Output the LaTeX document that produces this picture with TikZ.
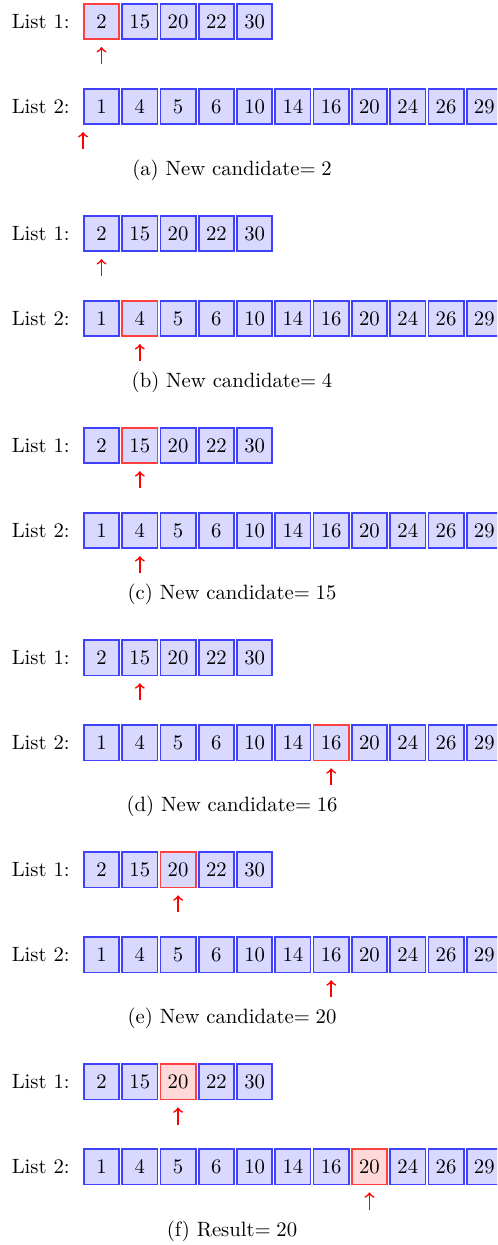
\documentclass[tikz,border=0pt]{standalone}
\usetikzlibrary{positioning}
\tikzset{cell/.style={rectangle, draw=blue!75, fill=blue!15, line width=0.8pt, minimum size=0.6cm, inner sep=0pt}}
\tikzset{pick/.style={draw=red!75}, found/.style={draw=red!75, fill=red!15}}
\tikzset{ptr/.style={->, red, thick}}
\tikzstyle{listname} = [inner sep=0pt]

\begin{document}
\begin{tikzpicture}
  \useasboundingbox (0,0) rectangle (8.44,-21.14);
  \clip (0,0) rectangle (8.44,-21.14);
  \def\listone{2,15,20,22,30}
  \def\listtwo{1,4,5,6,10,14,16,20,24,26,29}
  % one block per step: marked cells, pointer anchors, caption
  \foreach \p/\k/\ha/\hb/\hs/\ta/\tb/\txt in {
      a/0/1/0/pick/1.south/1.south west/{New candidate$=2$},
      b/1/0/2/pick/1.south/2.south/{New candidate$=4$},
      c/2/2/0/pick/2.south/2.south/{New candidate$=15$},
      d/3/0/7/pick/2.south/7.south/{New candidate$=16$},
      e/4/3/0/pick/3.south/7.south/{New candidate$=20$},
      f/5/3/8/found/3.south/8.south/{Result$=20$}}
  {
    \pgfmathsetmacro{\yone}{-0.365-3.601*\k}
    \pgfmathsetmacro{\ytwo}{\yone-1.443}
    \foreach \v [count=\i] in \listone {
      \ifnum\i=\ha
        \node [cell, \hs] (\p1-\i) at (1.074+0.65*\i, \yone) {\v};
      \else
        \node [cell] (\p1-\i) at (1.074+0.65*\i, \yone) {\v};
      \fi
    }
    \foreach \v [count=\i] in \listtwo {
      \ifnum\i=\hb
        \node [cell, \hs] (\p2-\i) at (1.074+0.65*\i, \ytwo) {\v};
      \else
        \node [cell] (\p2-\i) at (1.074+0.65*\i, \ytwo) {\v};
      \fi
    }
    \node [listname, left=0.22cm of \p1-1] (\p1-name) {List 1:};
    \node [listname, left=0.22cm of \p2-1] (\p2-name) {List 2:};

    \draw [ptr] ([yshift=-0.41cm]\p1-\ta) -- ([yshift=-0.12cm]\p1-\ta);
    \draw [ptr] ([yshift=-0.41cm]\p2-\tb) -- ([yshift=-0.12cm]\p2-\tb);

    \node (\p-cap) at (3.94, \yone-2.53) {(\p) \txt};
  }
\end{tikzpicture}
\end{document}
